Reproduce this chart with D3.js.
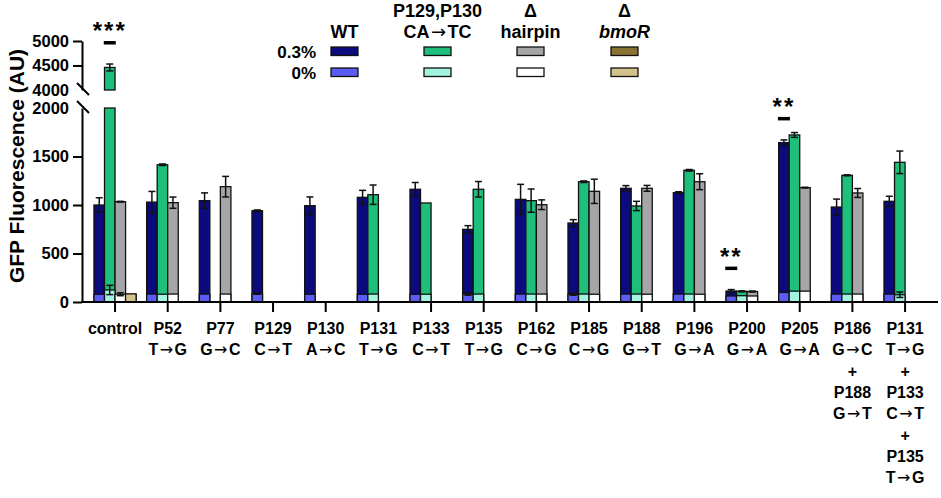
<!DOCTYPE html>
<html>
<head>
<style>
  body { margin: 0; background: #fff; }
  svg text { font-family: 'Liberation Sans', Arial, sans-serif; font-weight: bold; fill: #000; }
  svg tspan.arrow { font-family: 'DejaVu Sans', sans-serif; font-weight: normal; }
</style>
</head>
<body>
<svg id="chart" width="941" height="498"></svg>
<script src="https://cdnjs.cloudflare.com/ajax/libs/d3/7.8.5/d3.min.js"></script>
<script>
// categories + multi-line tick labels
const categories = ["control", "P52", "P77", "P129", "P130", "P131", "P133", "P135", "P162",
  "P185", "P188", "P196", "P200", "P205", "P186+P188", "P131+P133+P135"];
const labelLines = [
  ["control"], ["P52", "T→G"], ["P77", "G→C"], ["P129", "C→T"], ["P130", "A→C"],
  ["P131", "T→G"], ["P133", "C→T"], ["P135", "T→G"], ["P162", "C→G"], ["P185", "C→G"],
  ["P188", "G→T"], ["P196", "G→A"], ["P200", "G→A"], ["P205", "G→A"],
  ["P186", "G→C", "+", "P188", "G→T"],
  ["P131", "T→G", "+", "P133", "C→T", "+", "P135", "T→G"]
];

// 0.3% inducer
const wtHigh     = [1000, 1030, 1045, 941, 993, 1079, 1162, 749, 1058, 814, 1172, 1127, 113, 1643, 979, 1038];
const wtHighErr  = [75, 110, 80, 8, 90, 72, 70, 38, 155, 35, 28, 10, 15, 28, 82, 52];
const mutHigh    = [4460, 1415, null, null, null, 1106, 1021, 1162, 1045, 1240, 990, 1358, 110, 1722, 1306, 1440];
const mutHighErr = [70, 8, 0, 0, 0, 100, 0, 80, 120, 8, 48, 8, 5, 25, 5, 116];
const hpHigh     = [1034, 1024, 1189, null, null, null, null, null, 1003, 1141, 1172, 1240, 108, 1179, 1124, null];
const hpHighErr  = [4, 58, 106, 0, 0, 0, 0, 0, 50, 125, 30, 82, 5, 4, 46, 0];
const bmoRHigh   = [78, null, null, null, null, null, null, null, null, null, null, null, null, null, null, null];
const bmoRHighErr = [0, 0, 0, 0, 0, 0, 0, 0, 0, 0, 0, 0, 0, 0, 0, 0];

// 0% inducer
const wtLow      = [80, 82, 82, 85, 80, 80, 80, 82, 82, 80, 82, 82, 62, 98, 82, 82];
const wtLowErr   = [0, 0, 0, 5, 0, 0, 0, 12, 0, 10, 0, 0, 0, 0, 0, 0];
const mutLow     = [124, 80, null, null, null, 82, 80, 82, 82, 82, 82, 82, 65, 112, 82, 75];
const mutLowErr  = [48, 0, 0, 0, 0, 0, 0, 0, 0, 0, 0, 0, 0, 0, 0, 28];
const hpLow      = [80, 82, 82, null, null, null, null, null, 82, 80, 80, 80, 62, 112, 82, null];
const hpLowErr   = [15, 0, 0, 0, 0, 0, 0, 0, 0, 0, 0, 0, 0, 0, 0, 0];
const bmoRLow    = [84, null, null, null, null, null, null, null, null, null, null, null, null, null, null, null];
const bmoRLowErr = [0, 0, 0, 0, 0, 0, 0, 0, 0, 0, 0, 0, 0, 0, 0, 0];

const seriesKeys = ["wt", "mut", "hp", "bmoR"];
const lowTicks = [0, 500, 1000, 1500, 2000];
const highTicks = [4000, 4500, 5000];

// significance marks: category index, series, label
const sigMarks = [
  { cat: 0, key: "mut", label: "***" },
  { cat: 12, key: "wt", label: "**" },
  { cat: 13, key: "wt", label: "**" }
];

const series = [
  { key: "wt", high: wtHigh, highErr: wtHighErr, low: wtLow, lowErr: wtLowErr, cHigh: "#0b0b7d", cLow: "#5c5cf2",
    title: ["WT"] },
  { key: "mut", high: mutHigh, highErr: mutHighErr, low: mutLow, lowErr: mutLowErr, cHigh: "#1dbf7b", cLow: "#a2f3df",
    title: ["P129,P130", "CA→TC"] },
  { key: "hp", high: hpHigh, highErr: hpHighErr, low: hpLow, lowErr: hpLowErr, cHigh: "#a6a6a9", cLow: "#ffffff",
    title: ["Δ", "hairpin"] },
  { key: "bmoR", high: bmoRHigh, highErr: bmoRHighErr, low: bmoRLow, lowErr: bmoRLowErr, cHigh: "#8b7335", cLow: "#d3c38b",
    title: ["Δ", "bmoR"], italic: true }
];

const svg = d3.select("#chart");
const axisX = 82, baseY = 302;

const x = d3.scaleBand().domain(categories).range([88.7, 931.4]).padding(0);
const xs = d3.scaleBand().domain(seriesKeys).range([x.step() * 0.1, x.step() * 0.9]);
const yLow = d3.scaleLinear().domain([0, 2000]).range([baseY, 108]);
const yHigh = d3.scaleLinear().domain([4000, 5000]).range([90, 41]);
const yPos = v => v > 3000 ? yHigh(v) : yLow(Math.min(v, 2000));

// put text with arrows (arrow glyph from DejaVu, it is longer)
function fillText(sel, str) {
  str.split("→").forEach((part, k) => {
    if (k > 0) sel.append("tspan").attr("class", "arrow").attr("dx", 1.5).text("→");
    if (part) sel.append("tspan").attr("dx", k > 0 ? 1.5 : 0).text(part);
  });
}

// bars: 0.3% first, then 0% on top
function drawBars(valKey, colKey) {
  series.forEach(s => {
    s[valKey].forEach((v, i) => {
      if (v == null) return;
      const bx = x(categories[i]) + xs(s.key);
      const parts = v > 2000
        ? [[yLow(2000), yLow(0)], [yHigh(v), yHigh(4000)]]
        : [[yLow(v), yLow(0)]];
      parts.forEach(p => {
        svg.append("rect")
          .attr("x", bx).attr("y", p[0])
          .attr("width", xs.bandwidth()).attr("height", p[1] - p[0])
          .attr("fill", s[colKey]).attr("stroke", "#111").attr("stroke-width", 1.3);
      });
    });
  });
}
function drawErrors(valKey, errKey) {
  series.forEach(s => {
    s[valKey].forEach((v, i) => {
      const e = s[errKey][i];
      if (v == null || !e) return;
      const cx = x(categories[i]) + xs(s.key) + xs.bandwidth() / 2;
      const y1 = yPos(v + e), y2 = yPos(v - e);
      const g = svg.append("g").attr("stroke", "#111").attr("stroke-width", 1.5);
      g.append("line").attr("x1", cx).attr("x2", cx).attr("y1", y1).attr("y2", y2);
      g.append("line").attr("x1", cx - 3.5).attr("x2", cx + 3.5).attr("y1", y1).attr("y2", y1);
      g.append("line").attr("x1", cx - 3.5).attr("x2", cx + 3.5).attr("y1", y2).attr("y2", y2);
    });
  });
}
drawBars("high", "cHigh");
drawBars("low", "cLow");
drawErrors("high", "highErr");
drawErrors("low", "lowErr");

// y axes (broken)
function styleAxis(g) {
  g.selectAll("path, line").attr("stroke", "#000").attr("stroke-width", 2);
  g.selectAll("text").style("font-size", "16.5px");
}
const gLow = svg.append("g").attr("transform", `translate(${axisX},0)`)
  .call(d3.axisLeft(yLow).tickValues(lowTicks).tickFormat(d3.format("d"))
    .tickSize(9).tickSizeOuter(0).tickPadding(4));
styleAxis(gLow);
gLow.selectAll(".tick").filter(d => d === 2000).select("line").remove();

const gHigh = svg.append("g").attr("transform", `translate(${axisX},0)`)
  .call(d3.axisLeft(yHigh).tickValues(highTicks).tickFormat(d3.format("d"))
    .tickSize(9).tickSizeOuter(0).tickPadding(4));
styleAxis(gHigh);
gHigh.selectAll(".tick").filter(d => d === 4000).select("line").remove();

// break slashes
[yHigh(4000), yLow(2000)].forEach(yy => {
  svg.append("line")
    .attr("x1", axisX - 5).attr("y1", yy - 7).attr("x2", axisX + 7).attr("y2", yy + 5)
    .attr("stroke", "#000").attr("stroke-width", 2);
});

// x axis
const gX = svg.append("g").attr("transform", `translate(0,${baseY})`)
  .call(d3.axisBottom(x).tickSize(10).tickFormat(""));
gX.select(".domain").remove();
gX.selectAll("line").attr("stroke", "#000").attr("stroke-width", 2);
svg.append("line").attr("x1", axisX - 1).attr("x2", 938).attr("y1", baseY).attr("y2", baseY)
  .attr("stroke", "#000").attr("stroke-width", 2);

gX.selectAll(".tick").each(function (d, i) {
  labelLines[i].forEach((ln, j) => {
    const t = d3.select(this).append("text")
      .attr("text-anchor", "middle").attr("x", 0).attr("y", 32 + j * 21.3)
      .style("font-size", "16px");
    fillText(t, ln);
  });
});

// y title
svg.append("text")
  .attr("transform", "translate(24,166) rotate(-90)")
  .attr("text-anchor", "middle")
  .style("font-size", "21px")
  .text("GFP Fluorescence (AU)");

// significance marks
sigMarks.forEach(m => {
  const s = series.find(d => d.key === m.key);
  const v = s.high[m.cat], e = s.highErr[m.cat];
  const cx = x(categories[m.cat]) + xs(m.key) + xs.bandwidth() / 2;
  const top = yPos(v + e);
  svg.append("rect").attr("x", cx - 6).attr("y", top - 23).attr("width", 12).attr("height", 3.5).attr("fill", "#000");
  svg.append("text").attr("x", cx).attr("y", top - 25)
    .attr("text-anchor", "middle")
    .style("font-size", "24px").style("letter-spacing", "2px")
    .text(m.label);
});

// legend
const legX = [331, 424, 517, 611];
series.forEach((s, k) => {
  const cx = legX[k] + 13.5;
  const n = s.title.length;
  s.title.forEach((ln, j) => {
    const t = svg.append("text")
      .attr("x", cx).attr("y", n === 1 ? 38 : (j === 0 ? 17 : 38))
      .attr("text-anchor", "middle").style("font-size", "18px");
    fillText(t, ln);
    if (s.italic && j === 1) t.style("font-style", "italic");
  });
  [["cHigh", 47], ["cLow", 68]].forEach(([c, yy]) => {
    svg.append("rect").attr("x", legX[k]).attr("y", yy).attr("width", 27).attr("height", 8.5)
      .attr("fill", s[c]).attr("stroke", "#111").attr("stroke-width", 1.3);
  });
});
[["0.3%", 58], ["0%", 79]].forEach(([txt, yy]) => {
  svg.append("text").attr("x", 316).attr("y", yy).attr("text-anchor", "end")
    .style("font-size", "17px").text(txt);
});
</script>
</body>
</html>
